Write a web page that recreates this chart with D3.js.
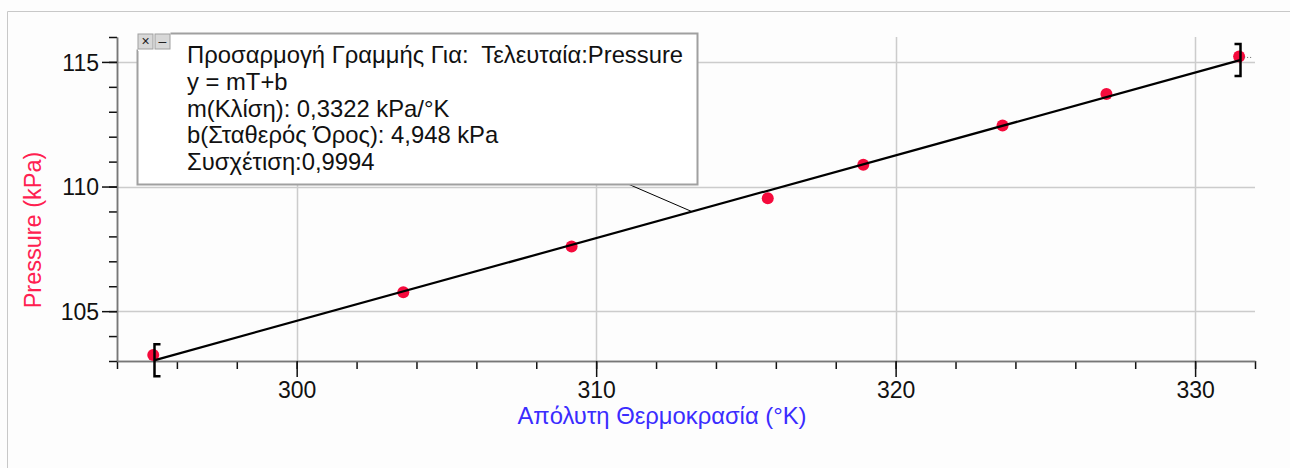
<!DOCTYPE html>
<html>
<head>
<meta charset="utf-8">
<script src="https://cdn.jsdelivr.net/npm/d3@7"></script>
<style>
  body { margin: 0; background: #fdfdfd; }
  svg { display: block; }
</style>
</head>
<body>
<div id="chart"></div>
<script>
// Measured points: absolute temperature (K) and pressure (kPa)
var temps = [295.21, 303.56, 309.18, 315.73, 318.92, 323.57, 327.04, 331.47];
var pressures = [103.24, 105.76, 107.59, 109.53, 110.87, 112.45, 113.71, 115.22];

// Linear fit shown in the box
var slope = 0.3322;
var intercept = 4.948;
var fitRange = [295.24, 331.5];
var leaderT = 313.2;

var xMajor = [300, 310, 320, 330];
var yMajor = [105, 110, 115];

var boxLines = [
    "Προσαρμογή Γραμμής Για:  Τελευταία:Pressure",
    "y = mT+b",
    "m(Κλίση): 0,3322 kPa/°K",
    "b(Σταθερός Όρος): 4,948 kPa",
    "Συσχέτιση:0,9994"
];

var svgWidth = 1290, svgHeight = 468;
var margin = { top: 37, right: 35, bottom: 107, left: 117 };
var chartWidth = svgWidth - margin.left - margin.right;
var chartHeight = svgHeight - margin.top - margin.bottom;

var svg = d3.select("#chart").append("svg")
    .attr("width", svgWidth)
    .attr("height", svgHeight)
    .style("font-family", "'Liberation Sans', Arial, sans-serif");

// Outer frame (top and left edges)
svg.append("path")
    .attr("d", "M7.5,468 L7.5,11.5 L1290,11.5")
    .attr("fill", "none")
    .attr("stroke", "#c8c8c8");

var g = svg.append("g")
    .attr("transform", `translate(${margin.left}, ${margin.top})`);

var xScale = d3.scaleLinear().domain([294, 332]).range([0, chartWidth]);
var yScale = d3.scaleLinear().domain([103, 116]).range([chartHeight, 0]);

// Grid lines
g.append("g").selectAll("line").data(xMajor).enter().append("line")
    .attr("x1", d => Math.round(xScale(d)) + 0.5).attr("x2", d => Math.round(xScale(d)) + 0.5)
    .attr("y1", 0).attr("y2", chartHeight)
    .attr("stroke", "#cccccc").attr("stroke-width", 1.5);
g.append("g").selectAll("line").data(yMajor).enter().append("line")
    .attr("y1", d => Math.round(yScale(d)) + 0.5).attr("y2", d => Math.round(yScale(d)) + 0.5)
    .attr("x1", 0).attr("x2", chartWidth)
    .attr("stroke", "#cccccc").attr("stroke-width", 1.5);

// Axes: minor ticks then major ticks
function styleAxis(sel) {
    sel.select(".domain").attr("stroke", "#777").attr("stroke-width", 1.5);
    sel.selectAll(".tick line").attr("stroke", "#111").attr("stroke-width", 1.5);
    sel.selectAll("text").attr("fill", "#111").attr("font-size", "23px")
        .attr("font-family", "'Liberation Sans', Arial, sans-serif");
}

var xMinor = g.append("g").attr("transform", `translate(0, ${chartHeight})`)
    .call(d3.axisBottom(xScale).tickValues(d3.range(294, 333, 2)).tickSize(8).tickFormat("").tickSizeOuter(0));
styleAxis(xMinor);
var xAxis = g.append("g").attr("transform", `translate(0, ${chartHeight})`)
    .call(d3.axisBottom(xScale).tickValues(xMajor).tickSize(16).tickPadding(5).tickSizeOuter(0));
styleAxis(xAxis);

var yMinor = g.append("g")
    .call(d3.axisLeft(yScale).tickValues(d3.range(103, 117, 1)).tickSize(8).tickFormat("").tickSizeOuter(0));
styleAxis(yMinor);
var yAxis = g.append("g")
    .call(d3.axisLeft(yScale).tickValues(yMajor).tickSize(15).tickPadding(3).tickSizeOuter(0));
styleAxis(yAxis);
yAxis.selectAll("text").attr("dy", "0.36em");

// Data points
g.selectAll("circle").data(temps).enter().append("circle")
    .attr("cx", (d, i) => xScale(d))
    .attr("cy", (d, i) => yScale(pressures[i]))
    .attr("r", 6)
    .attr("fill", "#f50a3c");

// Fit line
var fitLine = d3.line()
    .x(d => xScale(d))
    .y(d => yScale(slope * d + intercept));
g.append("path")
    .datum(fitRange)
    .attr("d", fitLine)
    .attr("fill", "none")
    .attr("stroke", "#000")
    .attr("stroke-width", 2.2);

// Small dotted tail after last point
var lastX = xScale(temps[temps.length - 1]), lastY = yScale(pressures[pressures.length - 1]);
g.append("line")
    .attr("x1", lastX + 5).attr("x2", lastX + 14)
    .attr("y1", lastY + 1).attr("y2", lastY + 1)
    .attr("stroke", "#666").attr("stroke-dasharray", "1,2");

// Range brackets
function bracket(t, dir) {
    var bx = Math.round(xScale(t)) + 0.5;
    var by = yScale(slope * t + intercept);
    var top = by - 16, bot = by + 16;
    g.append("path")
        .attr("d", `M${bx + dir * 6},${top} L${bx},${top} L${bx},${bot} L${bx + dir * 6},${bot}`)
        .attr("fill", "none")
        .attr("stroke", "#000")
        .attr("stroke-width", 2.5);
}
bracket(fitRange[0], 1);
bracket(fitRange[1], -1);

// Axis titles
svg.append("text")
    .attr("transform", "translate(33, 230) rotate(-90)")
    .attr("text-anchor", "middle")
    .attr("dy", "0.35em")
    .attr("font-size", "23.5px")
    .attr("fill", "#ff2050")
    .text("Pressure (kPa)");

svg.append("text")
    .attr("x", 662)
    .attr("y", 424)
    .attr("text-anchor", "middle")
    .attr("font-size", "23.8px")
    .attr("fill", "#3a2cff")
    .text("Απόλυτη Θερμοκρασία (°K)");

// Leader line from box to fit line
var leadX = margin.left + xScale(leaderT);
var leadY = margin.top + yScale(slope * leaderT + intercept);
svg.append("line")
    .attr("x1", 628).attr("y1", 184)
    .attr("x2", leadX).attr("y2", leadY)
    .attr("stroke", "#000").attr("stroke-width", 1);

// Fit info box
var box = { x: 137, y: 33, w: 560, h: 151 };
svg.append("path")
    .attr("d", `M${box.x + 33.5},${box.y + 0.5} L${box.x + box.w + 0.5},${box.y + 0.5} L${box.x + box.w + 0.5},${box.y + box.h + 0.5} L${box.x + 0.5},${box.y + box.h + 0.5} L${box.x + 0.5},${box.y + 16.5}`)
    .attr("fill", "#fff")
    .attr("stroke", "#a0a0a0")
    .attr("stroke-width", 2);
svg.append("rect")
    .attr("x", box.x + 1).attr("y", box.y + 16).attr("width", 33).attr("height", 2)
    .attr("fill", "#fff");

// close / minimise buttons
[0, 17].forEach(function(off, i) {
    svg.append("rect")
        .attr("x", box.x + 1 + off).attr("y", box.y + 1)
        .attr("width", 15).attr("height", 15)
        .attr("fill", "#d8d8d8").attr("stroke", "#a0a0a0");
    svg.append("text")
        .attr("x", box.x + 8.5 + off).attr("y", box.y + 13)
        .attr("text-anchor", "middle")
        .attr("font-size", "14px")
        .attr("fill", "#222")
        .text(i === 0 ? "×" : "–");
});

svg.append("g").selectAll("text").data(boxLines).enter().append("text")
    .attr("x", 187)
    .attr("y", (d, i) => 63 + i * 26.8)
    .attr("font-size", "23.8px")
    .attr("fill", "#111")
    .style("white-space", "pre")
    .text(d => d);
</script>
</body>
</html>
